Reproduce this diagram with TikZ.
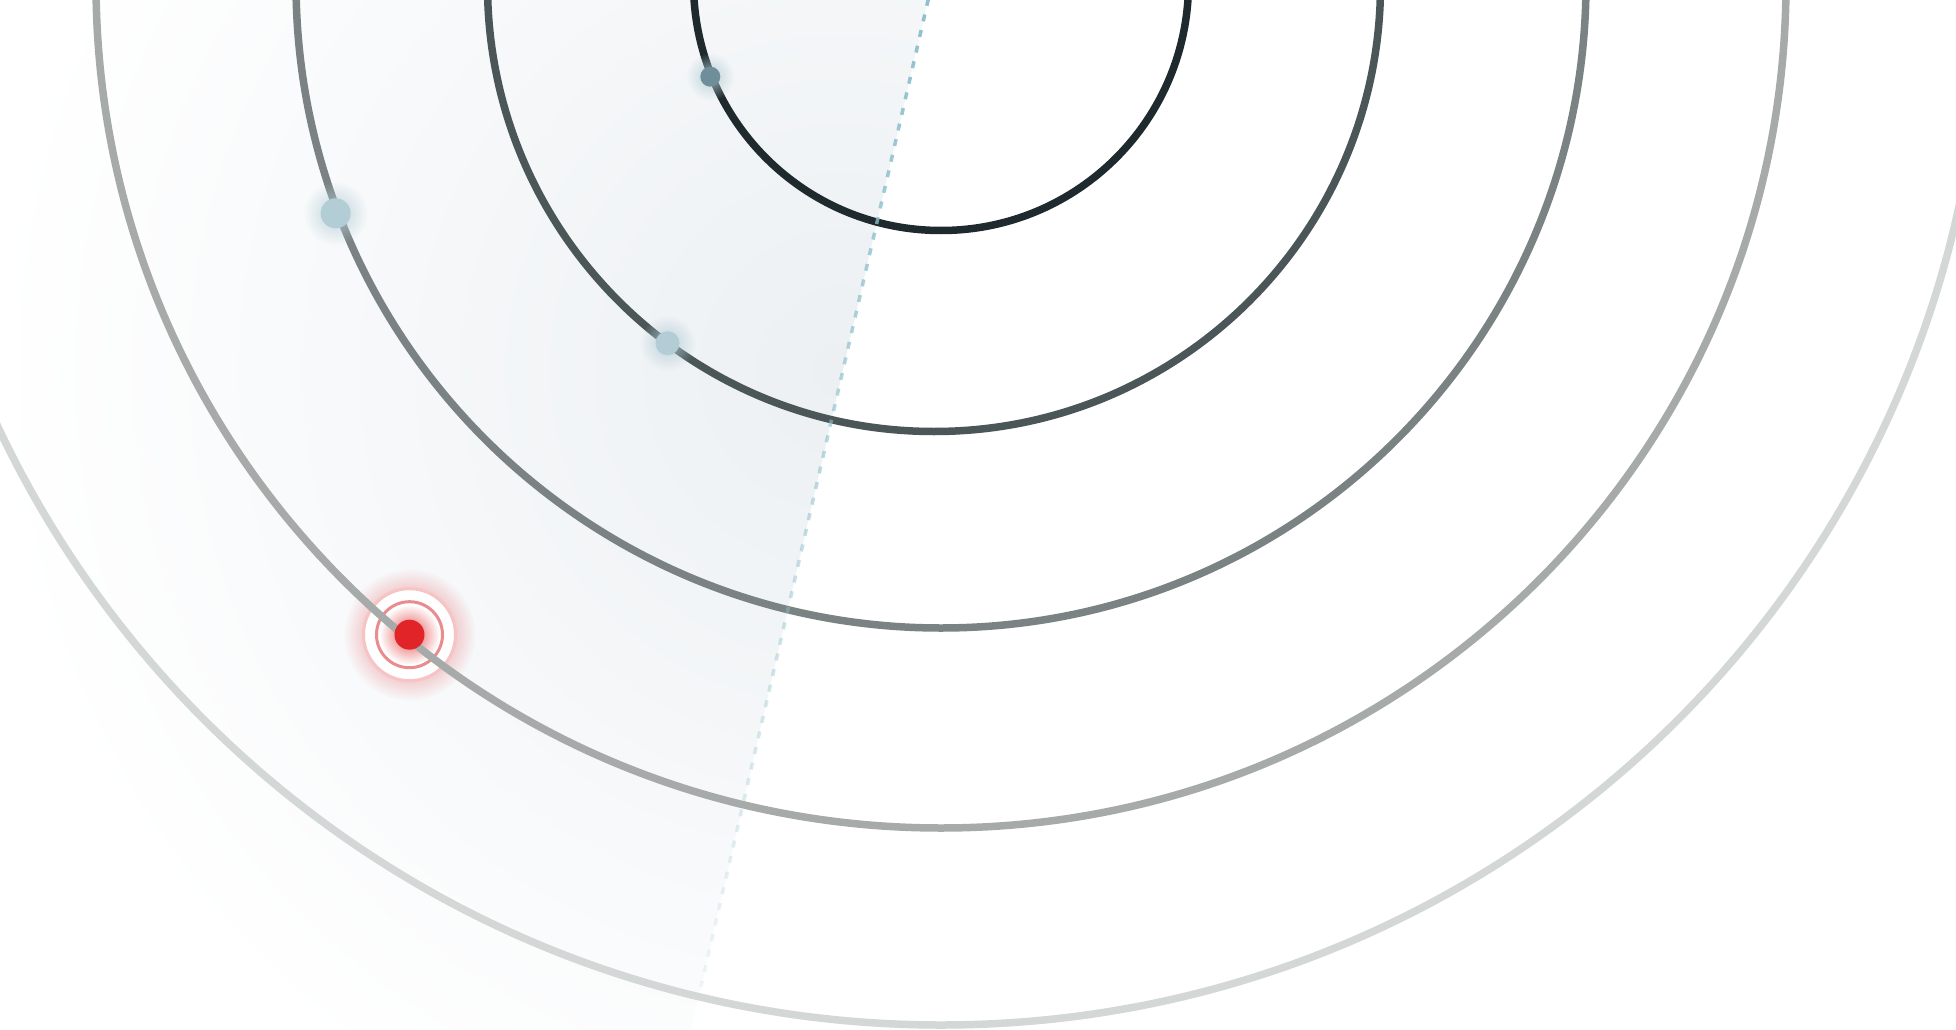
\documentclass[tikz,border=0pt]{standalone}
\usetikzlibrary{fadings}
\definecolor{ringOne}{HTML}{1F2A2E}
\definecolor{ringTwo}{HTML}{4B5659}
\definecolor{ringThree}{HTML}{7B8283}
\definecolor{ringFour}{HTML}{A6ABAA}
\definecolor{ringFive}{HTML}{D3D7D6}
\definecolor{sweepTint}{HTML}{ECF0F3}
\definecolor{sweepLine}{HTML}{8CBFCB}
\definecolor{probeDark}{HTML}{6E8F9A}
\definecolor{probeLight}{HTML}{B3CDD6}
\definecolor{alertRed}{HTML}{E02428}
\definecolor{alertRing}{HTML}{EA8C8E}
\definecolor{alertHalo}{HTML}{F6C4C4}
\tikzfading[name=glowfade, inner color=transparent!0, outer color=transparent!100]
\tikzfading[name=sweepfade, top color=transparent!0, middle color=transparent!15, bottom color=transparent!88]

\begin{document}
\begin{tikzpicture}[
    x = 1pt,
    y = 1pt,
    ring/.style = {line width = 7.5pt},
    glow/.style = {path fading = glowfade},
    probe/.style = {circle, inner sep = 0pt, minimum size = #1}
  ]
    \useasboundingbox (0, -1030) rectangle (1956, 0);
    \clip (0, -1030) rectangle (1956, 0);
    \coordinate (origin) at (941, 17);
    \coordinate (origin_two) at (934, 15);
    \coordinate (sweep_start) at (932, 17);
    \coordinate (sweep_end) at (701, -987);
    \coordinate (sweep_far) at (468, -2000);
    \coordinate (inner_spot) at ([shift={(202.1:249)}]origin);
    \coordinate (middle_spot) at ([shift={(233.35:446.5)}]origin_two);
    \coordinate (outer_spot) at ([shift={(200.83:647.7)}]origin);
    \coordinate (alert_spot) at ([shift={(230.8:841)}]origin);
    % swept sector
    \begin{scope}
      \clip (sweep_start) -- (sweep_far) -- (-50, -2000) -- (-50, 17) -- cycle;
      \shade[inner color = sweepTint, outer color = white] (840, -370) circle (850);
    \end{scope}
    % target under the rings
    \fill[alertRed, glow, fill opacity = 0.65] (alert_spot) circle (66);
    \fill[white] (alert_spot) circle (46);
    \draw[alertHalo, line width = 3pt] (alert_spot) circle (46);
    \fill[alertRed, glow, fill opacity = 0.8] (alert_spot) circle (30);
    \draw[alertRing, line width = 3pt] (alert_spot) circle (33);
    % rings
    \draw[ring, ringFive] (origin) circle (1042);
    \draw[ring, ringFour] (origin) circle (845);
    \draw[ring, ringThree] (origin) circle (645);
    \draw[ring, ringTwo] (origin_two) circle (446.5);
    \draw[ring, ringOne] (origin) circle (247.5);
    \draw[sweepLine, line width = 3.5pt, dash pattern = on 7pt off 9pt, path fading = sweepfade] (sweep_start) -- (sweep_end);
    % probes
    \fill[probeLight, glow, fill opacity = 0.85] (inner_spot) circle (24);
    \fill[probeLight, glow, fill opacity = 0.85] (middle_spot) circle (28);
    \fill[probeLight, glow, fill opacity = 0.85] (outer_spot) circle (32);
    \node[probe = 20pt, fill = probeDark] (probe_inner) at (inner_spot) {};
    \node[probe = 24pt, fill = probeLight] (probe_middle) at (middle_spot) {};
    \node[probe = 30pt, fill = probeLight] (probe_outer) at (outer_spot) {};
    \node[probe = 30pt, fill = alertRed] (alert_dot) at (alert_spot) {};
  \end{tikzpicture}
\end{document}
